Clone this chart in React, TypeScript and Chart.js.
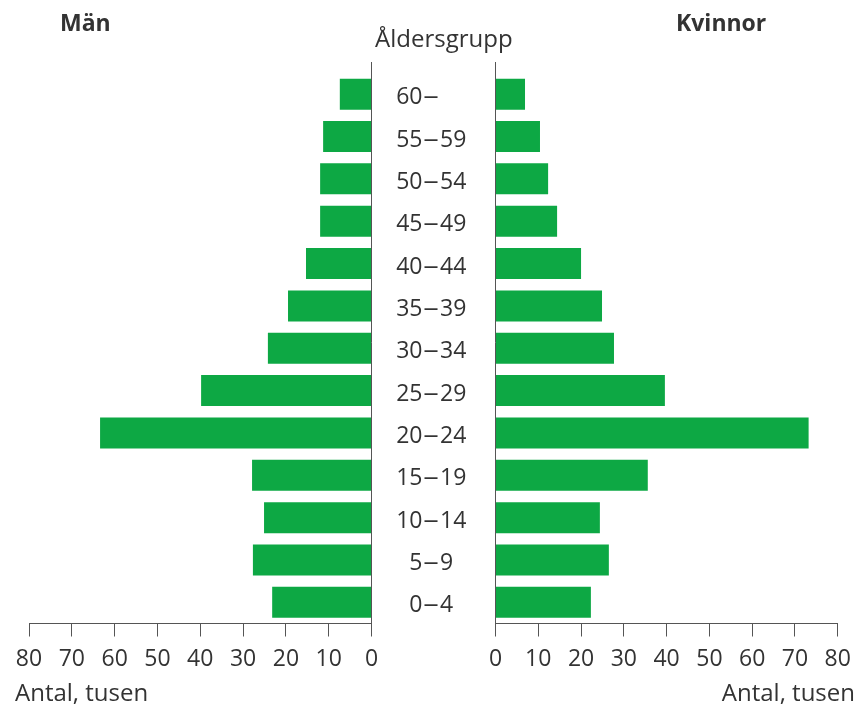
import React, { useEffect, useRef } from 'react';
import { Chart, registerables } from 'chart.js';

Chart.register(...registerables);

// ---- data ----
const ageGroups = ['60–', '55–59', '50–54', '45–49', '40–44', '35–39', '30–34', '25–29', '20–24', '15–19', '10–14', '5–9', '0–4'];
const menValues = [7.4, 11.3, 12.0, 12.0, 15.3, 19.5, 24.2, 39.8, 63.4, 27.9, 25.1, 27.7, 23.2];
const womenValues = [6.9, 10.4, 12.3, 14.4, 20.0, 24.9, 27.7, 39.6, 73.2, 35.6, 24.4, 26.5, 22.3];
const axisMax = 80;
const axisStep = 10;

const titleMen = 'Män';
const titleWomen = 'Kvinnor';
const titleAge = 'Åldersgrupp';
const axisTitle = 'Antal, tusen';

// ---- style ----
const W = 861;
const H = 707;
const FONT = "'Open Sans', 'Noto Sans', sans-serif";
const TEXT = '#333333';
const AXIS = '#555555';
const GREEN = '#0da844';
const PLOT_TOP = 73;
const PLOT_BOTTOM = 623.5;
const LINE_TOP = 62;

const axisLinePlugin = {
  id: 'zeroLine',
  afterDatasetsDraw(chart: any) {
    const ctx = chart.ctx;
    const x = Math.round(chart.scales.x.getPixelForValue(0) - 0.5) + 0.5;
    ctx.save();
    ctx.strokeStyle = AXIS;
    ctx.lineWidth = 1;
    ctx.beginPath();
    ctx.moveTo(x, LINE_TOP);
    ctx.lineTo(x, chart.chartArea.bottom);
    ctx.stroke();
    ctx.restore();
  },
};

const ageLabelPlugin = {
  id: 'ageLabels',
  afterDraw(chart: any) {
    const ctx = chart.ctx;
    const yScale = chart.scales.y;
    const x0 = chart.scales.x.getPixelForValue(0);
    const dashCenter = x0 - 64.5;
    const dashScale = 1.35;
    ctx.save();
    ctx.font = `23px ${FONT}`;
    ctx.fillStyle = TEXT;
    ctx.textBaseline = 'middle';
    ageGroups.forEach((label, i) => {
      const y = yScale.getPixelForValue(i) + 3.5;
      const idx = label.indexOf('–');
      const pre = label.slice(0, idx);
      const post = label.slice(idx + 1);
      ctx.textAlign = 'right';
      ctx.fillText(pre, dashCenter - 8.5, y);
      ctx.save();
      ctx.translate(dashCenter, y);
      ctx.scale(dashScale, 1);
      ctx.textAlign = 'center';
      ctx.fillText('–', 0, 0);
      ctx.restore();
      ctx.textAlign = 'left';
      if (post) ctx.fillText(post, dashCenter + 9, y);
    });
    ctx.restore();
  },
};

function makeConfig(values: number[], left: boolean): any {
  return {
    type: 'bar',
    data: {
      labels: ageGroups,
      datasets: [
        {
          data: left ? values.map((v) => -v) : values,
          backgroundColor: GREEN,
          borderWidth: 0,
          barPercentage: 0.732,
          categoryPercentage: 1,
        },
      ],
    },
    options: {
      indexAxis: 'y',
      responsive: false,
      animation: false,
      events: [],
      layout: {
        padding: left
          ? { left: 29, right: W - 371.5, top: PLOT_TOP, bottom: 0 }
          : { left: 495.5, right: W - 837.7, top: PLOT_TOP, bottom: 0 },
      },
      plugins: { legend: { display: false }, tooltip: { enabled: false }, title: { display: false } },
      scales: {
        x: {
          type: 'linear',
          position: 'bottom',
          min: left ? -axisMax : 0,
          max: left ? 0 : axisMax,
          afterFit(scale: any) {
            scale.height = H - PLOT_BOTTOM;
          },
          ticks: {
            stepSize: axisStep,
            color: TEXT,
            padding: 9,
            maxRotation: 0,
            autoSkip: false,
            font: { family: FONT, size: 23, lineHeight: 1.2 },
            callback: (v: number) => String(Math.abs(v)),
          },
          grid: {
            display: true,
            drawOnChartArea: false,
            drawTicks: true,
            tickLength: 13,
            color: AXIS,
            lineWidth: 1,
          },
          border: { display: true, color: AXIS, width: 1 },
        },
        y: {
          type: 'category',
          display: false,
          offset: true,
        },
      },
    },
    plugins: left ? [axisLinePlugin] : [axisLinePlugin, ageLabelPlugin],
  };
}

export default function App() {
  const leftRef = useRef<HTMLCanvasElement>(null);
  const rightRef = useRef<HTMLCanvasElement>(null);

  useEffect(() => {
    const l = new Chart(leftRef.current as HTMLCanvasElement, makeConfig(menValues, true));
    const r = new Chart(rightRef.current as HTMLCanvasElement, makeConfig(womenValues, false));
    return () => {
      l.destroy();
      r.destroy();
    };
  }, []);

  const canvasStyle: React.CSSProperties = { position: 'absolute', left: 0, top: 0, width: W, height: H };
  const txt = (size: number, bold: boolean): React.CSSProperties => ({
    position: 'absolute',
    fontFamily: FONT,
    fontSize: size,
    lineHeight: `${size}px`,
    fontWeight: bold ? 700 : 400,
    color: TEXT,
    whiteSpace: 'nowrap',
  });

  return (
    <div style={{ position: 'absolute', left: 0, top: 0, width: W, height: H, background: '#ffffff', overflow: 'hidden' }}>
      <canvas ref={leftRef} width={W} height={H} style={canvasStyle} />
      <canvas ref={rightRef} width={W} height={H} style={canvasStyle} />
      <div style={{ ...txt(23, true), left: 60, top: 11 }}>{titleMen}</div>
      <div style={{ ...txt(23, true), left: 676, top: 11 }}>{titleWomen}</div>
      <div style={{ ...txt(24, false), left: 375, top: 25.5 }}>{titleAge}</div>
      <div style={{ ...txt(24, false), left: 15, top: 679.5 }}>{axisTitle}</div>
      <div style={{ ...txt(24, false), right: 6, top: 679.5, textAlign: 'right' }}>{axisTitle}</div>
    </div>
  );
}
